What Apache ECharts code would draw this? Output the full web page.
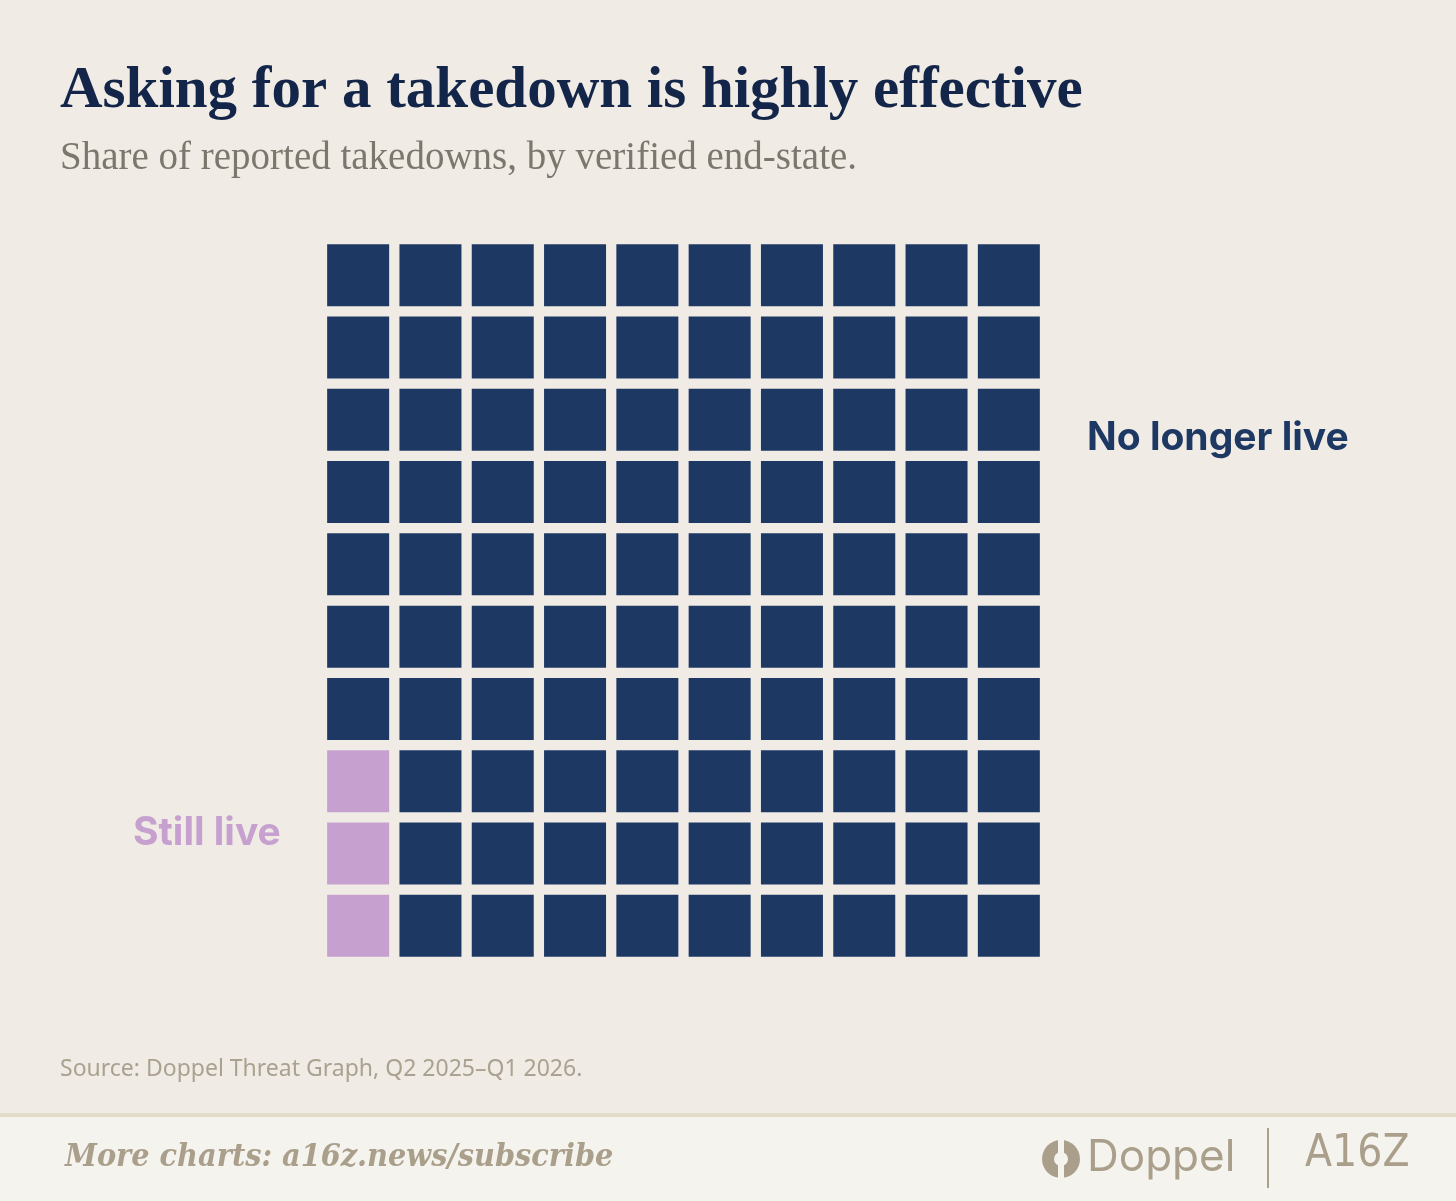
<!DOCTYPE html>
<html>
<head>
<meta charset="utf-8">
<style>
  html, body { margin: 0; padding: 0; background: #f0ece5; }
  #chart { width: 1456px; height: 1201px; }
</style>
<script src="https://cdn.jsdelivr.net/npm/echarts@6/dist/echarts.min.js"></script>
</head>
<body>
<div id="chart"></div>
<script>
var categories = ['Still live', 'No longer live'];
var counts = [3, 97];
var colors = ['#c6a0cf', '#1e3864'];
var gridSize = 10;

// build waffle cells: fill column by column, starting bottom-left
var cells = [];
var idx = 0;
for (var c = 0; c < categories.length; c++) {
    for (var k = 0; k < counts[c]; k++) {
        var col = Math.floor(idx / gridSize);
        var row = idx % gridSize;
        cells.push({ value: [col, row], itemStyle: { color: colors[c], opacity: 1 }, name: categories[c] });
        idx++;
    }
}

var myChart = echarts.init(document.getElementById('chart'));

var option = {
    backgroundColor: '#f0ece5',
    animation: false,
    grid: { left: 322, top: 239, width: 723, height: 723 },
    xAxis: { type: 'value', min: -0.5, max: 9.5, show: false },
    yAxis: { type: 'value', min: -0.5, max: 9.5, show: false },
    series: [{
        type: 'scatter',
        symbol: 'rect',
        symbolSize: 62,
        itemStyle: { opacity: 1 },
        data: cells
    }],
    graphic: [
        // footer band
        { type: 'rect', left: 0, top: 1117, shape: { width: 1456, height: 84 }, style: { fill: '#f5f3ee' }, silent: true },
        { type: 'rect', left: 0, top: 1113, shape: { width: 1456, height: 4 }, style: { fill: '#e2dbca' }, silent: true },
        {
            type: 'text', left: 60, top: 62,
            style: { text: 'Asking for a takedown is highly effective', font: 'bold 59px "Liberation Serif", serif', fill: '#13264a' }
        },
        {
            type: 'text', left: 60, top: 139,
            style: { text: 'Share of reported takedowns, by verified end-state.', font: '39px "Liberation Serif", serif', fill: '#7c766d' }
        },
        {
            type: 'text', left: 1087, top: 419,
            style: { text: categories[1], font: 'bold 39px Inter, "Noto Sans", sans-serif', fill: colors[1] }
        },
        {
            type: 'text', left: 133, top: 814,
            style: { text: categories[0], font: 'bold 39px Inter, "Noto Sans", sans-serif', fill: colors[0] }
        },
        {
            type: 'text', left: 60, top: 1058,
            style: { text: 'Source: Doppel Threat Graph, Q2 2025\u2013Q1 2026.', font: '23px "Noto Sans", sans-serif', fill: '#aaa190' }
        },
        {
            type: 'text', left: 65, top: 1142,
            style: { text: 'More charts: a16z.news/subscribe', font: 'italic bold 32px "DejaVu Serif Condensed", "Liberation Serif", serif', fill: '#aa9f8b' }
        },
        // Doppel mark
        { type: 'circle', shape: { cx: 1061, cy: 1159, r: 19 }, style: { fill: '#aa9f8b' } },
        { type: 'rect', shape: { x: 1058, y: 1138, width: 6, height: 42 }, style: { fill: '#f5f3ee' } },
        { type: 'circle', shape: { cx: 1061, cy: 1159, r: 7 }, style: { fill: '#f5f3ee' } },
        {
            type: 'text', left: 1087, top: 1136,
            style: { text: 'Doppel', font: '44px Inter, "Noto Sans", sans-serif', fill: '#aa9f8b' }
        },
        { type: 'rect', shape: { x: 1267, y: 1128, width: 2, height: 60 }, style: { fill: '#aa9f8b' } },
        {
            type: 'text', left: 1305, top: 1133,
            style: { text: 'A16Z', font: '44px "DejaVu Sans Condensed", sans-serif', fill: '#aa9f8b' }
        }
    ]
};

myChart.setOption(option);
</script>
</body>
</html>
